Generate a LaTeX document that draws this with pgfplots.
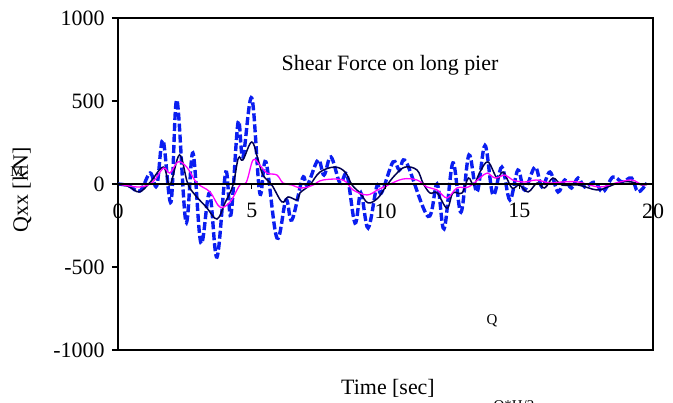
\documentclass[border=0pt]{standalone}
\usepackage{fontspec}
\setmainfont{Liberation Serif}
\usepackage{pgfplots}
\usepackage{pgfplotstable}
\pgfplotsset{compat=1.18}

% Shear force time histories (kN) on the long pier
\pgfplotstableread{
t v
0 0
0.4 -10
0.82 -42
1.2 66
1.45 -10
1.68 265
1.98 -108
2.2 506
2.54 -229
2.8 187
3.1 -356
3.42 -55
3.7 -440
4.03 72
4.22 -187
4.49 373
4.67 163
5.0 518
5.3 -54
5.53 133
5.94 -325
6.28 -96
6.5 -217
6.9 36
7.08 -6
7.48 145
7.7 54
7.96 163
8.3 6
8.56 54
8.86 -235
9.08 -54
9.35 -265
9.68 -12
9.85 -54
10.28 133
10.52 84
10.77 133
11.59 -195
11.93 0
12.19 -270
12.52 127
12.82 -170
13.12 175
13.42 -48
13.72 232
14.02 -66
14.35 102
14.65 -96
14.95 84
15.2 -36
15.59 102
15.85 -18
16.15 72
16.45 -48
16.7 24
16.95 -24
17.2 36
17.45 -18
17.83 12
18.13 -48
18.5 42
18.85 12
19.2 36
19.44 -48
19.77 6
}\dynamic

\pgfplotstableread{
t v
0 0
0.4 -15
0.8 -48
1.2 10
1.7 102
1.94 -6
2.3 175
2.6 6
2.88 -66
3.3 -139
3.7 -211
4.0 -114
4.3 -6
4.5 157
4.67 145
5.0 253
5.24 145
5.42 54
5.75 -6
6.13 -108
6.36 -78
6.7 -96
6.8 -54
7.17 -6
7.55 72
8.1 102
8.49 72
8.75 -6
9.05 -54
9.35 -114
9.72 -84
10.0 -18
10.36 54
10.73 102
11.18 84
11.4 6
11.66 -54
11.93 -54
12.3 -145
12.52 -54
12.86 -54
13.1 36
13.3 -6
13.53 72
13.83 133
14.17 36
14.4 72
14.73 -24
15.0 -6
15.33 -48
15.67 6
15.95 -24
16.26 36
16.6 -6
17.2 -6
17.9 -36
18.3 -18
18.8 12
19.2 12
19.6 -6
19.8 0
}\static

\pgfplotstableread{
t v
0 0
0.8 -18
1.3 12
1.7 96
1.94 66
2.24 133
2.57 102
2.95 6
3.44 -48
3.81 -139
4.19 -108
4.56 -6
4.8 12
5.05 145
5.3 114
5.57 66
5.94 54
6.17 6
6.5 -6
6.8 -24
7.1 -18
7.3 -6
7.66 24
8.41 24
8.79 -36
9.31 -66
9.7 -36
10.1 -6
10.65 30
11.18 24
11.55 -18
11.93 -36
12.3 -84
12.67 -24
13.1 -18
13.53 36
13.8 66
14.1 36
14.47 54
14.75 24
15.2 12
15.64 24
16.15 6
16.6 12
17.2 12
18.0 -18
18.6 6
19.2 24
19.6 -6
19.8 0
}\pierbase

\definecolor{dynblue}{RGB}{10,30,240}
\definecolor{statnavy}{RGB}{0,0,80}
\definecolor{basemag}{RGB}{255,0,255}

\begin{document}
\begin{tikzpicture}
\useasboundingbox (0,0) rectangle (673bp,403bp);
\pgfplotsset{
  every axis/.append style={
    font=\fontsize{22}{26}\selectfont,
    /pgf/number format/assume math mode=true,
    /pgf/number format/set thousands separator={},
  },
}
% framed axis with the y scale and the three histories
\begin{axis}[
  at={(118bp,53bp)}, anchor=south west,
  scale only axis, width=535bp, height=332bp,
  xmin=0, xmax=20, ymin=-1000, ymax=1000,
  xtick=\empty,
  ytick={-1000,-500,0,500,1000},
  tick align=outside,
  major tick length=6bp,
  yticklabel style={xshift=-4bp},
  axis line style={line width=1.6bp},
  every tick/.style={line width=1.2bp, black},
  ytick pos=left,
  clip=false,
]
\addplot[dynblue, line width=3.4bp, dash pattern=on 8bp off 3bp, smooth, tension=0.6] table[x=t, y=v] {\dynamic};
\addplot[statnavy, line width=1.5bp, smooth, tension=0.6] table[x=t, y=v] {\static};
\addplot[basemag, line width=1.3bp, smooth, tension=0.6] table[x=t, y=v] {\pierbase};
\end{axis}
% time axis drawn through zero
\begin{axis}[
  at={(118bp,53bp)}, anchor=south west,
  scale only axis, width=535bp, height=332bp,
  xmin=0, xmax=20, ymin=-1000, ymax=1000,
  axis x line*=middle, axis y line=none,
  xtick={0,5,10,15,20},
  xtick align=outside,
  major tick length=5bp,
  every tick/.style={line width=1.2bp, black},
  xticklabel style={yshift=-11bp},
  axis line style={line width=1.6bp},
]
\end{axis}
\begin{scope}[font=\fontsize{22}{26}\selectfont]
\node at (390bp,338bp) {Shear Force on long pier};
\node[rotate=90] at (22bp,213bp) {Qxx [kN]};
\node at (388bp,15bp) {Time [sec]};
\end{scope}
\begin{scope}[font=\fontsize{15}{18}\selectfont]
\node at (17bp,231bp) {M};
\node at (492bp,82bp) {Q};
\node[anchor=base] at (514bp,-7bp) {Q*H/2};
\end{scope}
\end{tikzpicture}
\end{document}
